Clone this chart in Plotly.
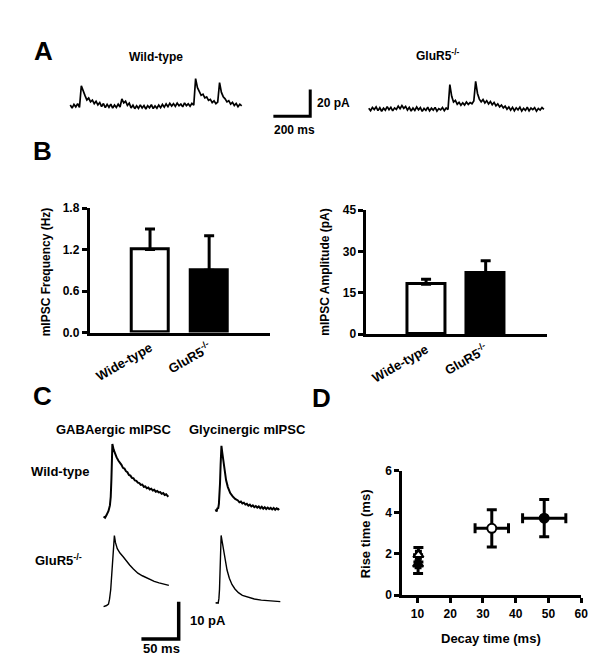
import plotly.graph_objects as go

W, H = 600, 668
FONT = "Arial, Liberation Sans, sans-serif"

# ---- panel A: spontaneous mIPSC traces, pA, sampled every 10 ms
a_dt = 10
a_wt = [0.8, -1.5, 1.2, -0.6, 1.8, -1.0, 15.2, 10.5, 7.8, 4.6,
        6.0, 3.2, 4.4, 1.8, 3.5, 0.9, 2.6, -0.4, 1.9, -1.2,
        1.3, -0.9, 1.5, -1.6, 0.8, -1.1, 1.4, -0.7, 5.3, 2.4,
        3.6, 0.5, 2.1, -1.4, 0.6, -2.0, 0.2, -1.7, 0.9, -1.5,
        0.4, -2.2, 0.3, -1.3, 1.0, -1.9, 0.1, -1.6, 0.7, -1.2,
        1.2, -0.8, 1.6, -0.5, 2.0, 0.0, 1.8, -0.3, 2.2, 0.2,
        1.5, -0.6, 2.4, 0.3, 1.7, -0.2, 2.0, 0.6, 20.5, 13.8,
        11.2, 8.0, 8.9, 6.1, 6.8, 4.2, 5.0, 2.6, 3.9, 1.8,
        3.0, 17.6, 10.2, 7.0, 5.4, 3.1, 4.0, 1.5, 2.8, 0.4,
        1.9, -0.5, 1.4, 0.2]
a_ko = [0.5, -1.3, 1.1, -0.4, 1.6, -1.2, 0.9, -1.7, 0.6, -0.9,
        1.8, -0.6, 1.3, -1.4, 0.8, -0.3, 2.1, 0.2, 2.6, 0.5,
        1.9, -0.8, 1.2, -1.5, 0.7, -1.1, 1.5, -0.6, 1.0, -1.8,
        0.4, -1.0, 1.3, -1.4, 0.6, -0.9, 1.2, -1.6, 0.3, -0.7,
        1.1, -1.2, 0.8, -0.4, 18.3, 9.5, 5.2, 6.4, 3.6, 5.0,
        2.8, 4.6, 3.0, 5.2, 3.4, 4.8, 3.9, 6.0, 20.7, 11.6,
        7.4, 5.3, 7.0, 4.5, 6.2, 3.8, 5.6, 3.2, 4.9, 2.4,
        3.8, 1.6, 2.9, 0.8, 2.2, -0.2, 1.5, -0.9, 1.2, -1.3,
        0.9, -0.6, 1.4, -1.5, 0.5, -1.0, 1.3, -1.4, 0.7, -0.5,
        1.0, -1.6, 0.4, -0.8, 1.1, -0.3]
a_scale = (200, 20)  # ms, pA

# ---- panel B: mean +/- SEM
groups = ["Wide-type", "GluR5<sup>-/-</sup>"]
freq = [1.2, 0.9]
freq_sem = [0.3, 0.5]
amp = [18.1, 22.0]
amp_sem = [1.8, 4.6]

# ---- panel C: averaged mIPSCs (ms, pA)
gaba_wt_t = [0, 2, 4, 6.6, 8.5, 9.6, 10.5, 11.2, 11.8, 13.5, 15.5, 17.5,
             20, 22, 24, 26, 28, 30, 32, 34, 36, 38, 40, 42, 44, 46, 48, 50,
             52, 54, 56, 58, 60, 62, 64, 66, 68, 70, 72, 74, 76, 78, 80, 82,
             84, 86, 87]
gaba_wt = [0, -0.3, 0.4, 1.5, 3.0, 5.3, 10, 15, 19.5, 18.0, 16.8, 15.9,
           15.0, 14.5, 13.9, 13.1, 12.9, 12.2, 11.9, 11.2, 11.0, 10.4, 10.3, 9.7, 9.6, 9.1, 9.0, 8.5,
           8.6, 8.0, 8.1, 7.6, 7.8, 7.3, 7.5, 7.0, 7.2, 6.7, 6.9, 6.5, 6.6, 6.1, 6.3, 5.8,
           6.0, 5.5, 5.7]
gly_wt_t = [0, 1.5, 2.5, 3.5, 4.5, 5.3, 6, 6.8, 7.9, 9, 10.9, 12.5, 14.1,
            16.5, 19.7, 23, 26.3, 30, 32, 34, 36, 38, 40, 42, 44, 46, 48, 50,
            52, 54, 56, 58, 60, 62, 64, 66, 68, 70, 72, 74, 76, 78, 80, 82, 84, 85.5]
gly_wt = [0, -0.6, 0.4, 0.2, 1.5, 3.5, 7, 12, 17.1, 15.3, 12.3, 10.0, 7.9,
          6.0, 4.4, 3.5, 2.8, 2.4, 1.9, 2.1, 1.6, 1.8, 1.3, 1.5, 1.0, 1.3, 0.8, 1.1,
          0.6, 0.9, 0.5, 0.8, 0.3, 0.7, 0.2, 0.6, 0.1, 0.5, 0.1, 0.4, 0.0, 0.4, -0.1, 0.3, 0.0, 0.2]
gaba_ko_t = [0, 2, 4, 6.6, 8, 9.6, 11, 12.5, 13.8, 14.5, 16, 18.4, 22, 26.3,
             30, 35, 40, 46, 52, 61.3, 68, 74.5, 81, 87.6]
gaba_ko = [0, 0.1, 0.3, 0.7, 2.0, 4.6, 8, 12.5, 17, 19.1, 17.2, 15.6, 14.4, 13.4,
           12.4, 11.2, 10.1, 9.0, 8.3, 7.4, 6.8, 6.4, 6.0, 5.7]
gly_ko_t = [0, 1.5, 3.5, 4.5, 5.3, 6.2, 6.9, 7.5, 8.5, 10.9, 13, 15.4, 18.5,
            22, 26, 30.7, 36, 43.9, 52, 61.4, 70, 78, 86.9]
gly_ko = [0, 0.1, 0, 1.2, 3.7, 9, 14.5, 18.2, 17.0, 14.2, 11.3, 8.9, 6.7,
          5.0, 3.8, 2.8, 2.1, 1.5, 1.1, 0.8, 0.6, 0.5, 0.4]
c_scale = (50, 10)  # ms, pA

# ---- panel D: rise vs decay time (mean +/- SEM)
decay = [32.7, 48.7, 10.3, 10.2]
decay_err = [5.1, 6.6, 0.6, 0.6]
rise = [3.23, 3.72, 1.95, 1.5]
rise_err = [0.9, 0.9, 0.35, 0.45]
d_fill = ["white", "black", "white", "black"]
d_symbol = ["circle", "circle", "triangle-up", "triangle-up"]


def fx(p):
    return p / W


def fy(p):
    return 1 - p / H


fig = go.Figure()
black = "black"

# panel A, drawn on a hidden axis in ms / pA
MS_A = a_scale[0] / 37.3
PA_A = a_scale[1] / 27.3
A_TOP, A_BOT = 20, 125


def trace_a(vals, x_px, base_py):
    t = [x_px * MS_A + i * a_dt for i in range(len(vals))]
    y = [(A_BOT - base_py) * PA_A + v for v in vals]
    fig.add_trace(go.Scatter(x=t, y=y, mode="lines", line=dict(color=black, width=1.7),
                             xaxis="x4", yaxis="y4", showlegend=False, hoverinfo="skip"))


trace_a(a_wt, 63, 93)
trace_a(a_ko, 365, 96)
xc, yc = 305.8 * MS_A, (A_BOT - 103.3) * PA_A
fig.add_trace(go.Scatter(x=[xc - a_scale[0], xc, xc], y=[yc, yc, yc + a_scale[1]], mode="lines",
                         line=dict(color=black, width=3), xaxis="x4", yaxis="y4", showlegend=False))

# panel C, hidden axis in ms / pA
MS_C = c_scale[0] / 37.7
PA_C = c_scale[1] / 38.0
C_TOP, C_BOT = 420, 655


def trace_c(t, vals, x_px, base_py, width):
    fig.add_trace(go.Scatter(x=[x_px * MS_C + v for v in t],
                             y=[(C_BOT - base_py) * PA_C + v for v in vals],
                             mode="lines", line=dict(color=black, width=width),
                             xaxis="x5", yaxis="y5", showlegend=False, hoverinfo="skip"))


trace_c(gaba_wt_t, gaba_wt, 96.7, 512.3, 2)
trace_c(gly_wt_t, gly_wt, 210, 505, 2)
trace_c(gaba_ko_t, gaba_ko, 96.7, 604.3, 1.4)
trace_c(gly_ko_t, gly_ko, 210, 600.7, 1.4)
xc, yc = 172.7 * MS_C, (C_BOT - 637.3) * PA_C
fig.add_trace(go.Scatter(x=[xc - c_scale[0], xc, xc], y=[yc, yc, yc + c_scale[1]], mode="lines",
                         line=dict(color=black, width=3.5), xaxis="x5", yaxis="y5", showlegend=False))

# panel B bars
for vals, sem, ax in [(freq, freq_sem, ""), (amp, amp_sem, "2")]:
    fig.add_trace(go.Bar(x=groups, y=vals, width=0.635,
                         marker=dict(color=["white", "black"], line=dict(color=black, width=3)),
                         error_y=dict(type="data", array=sem, arrayminus=[0, 0], symmetric=False,
                                      thickness=3, width=5, color=black),
                         xaxis="x" + ax, yaxis="y" + ax, showlegend=False))

# panel D scatter
fig.add_trace(go.Scatter(x=decay, y=rise, mode="markers",
                         marker=dict(symbol=d_symbol, size=9, color=d_fill, line=dict(color=black, width=2)),
                         error_x=dict(type="data", array=decay_err, thickness=3, width=5, color=black),
                         error_y=dict(type="data", array=rise_err, thickness=3, width=5, color=black),
                         xaxis="x3", yaxis="y3", showlegend=False))

tfont = dict(family=FONT, size=12, color=black, weight="bold")
cfont = dict(family=FONT, size=13, color=black, weight="bold")
axis_common = dict(showline=True, linecolor=black, linewidth=3, showgrid=False, zeroline=False,
                   ticks="outside", tickwidth=3, ticklen=5, tickcolor=black, tickfont=tfont,
                   fixedrange=True)
hidden = dict(visible=False, fixedrange=True)

fig.update_layout(
    width=W, height=H, margin=dict(l=0, r=0, t=0, b=0),
    paper_bgcolor="white", plot_bgcolor="rgba(0,0,0,0)", bargap=0,
    xaxis=dict(axis_common, domain=[fx(82.7), fx(265)], range=[-1.02, 2.028], ticks="",
               tickangle=-30, tickfont=cfont, anchor="y"),
    yaxis=dict(axis_common, domain=[fy(324.3), fy(197.3)], range=[0, 1.8],
               tickvals=[0, 0.6, 1.2, 1.8], ticktext=["0.0", "0.6", "1.2", "1.8"], anchor="x"),
    xaxis2=dict(axis_common, domain=[fx(362.7), fx(545)], range=[-1.0, 2.023], ticks="",
                tickangle=-30, tickfont=cfont, anchor="y2"),
    yaxis2=dict(axis_common, domain=[fy(326), fy(199.3)], range=[0, 45],
                tickvals=[0, 15, 30, 45], anchor="x2"),
    xaxis3=dict(axis_common, domain=[fx(399), fx(580)], range=[5.4, 60],
                tickvals=[10, 20, 30, 40, 50, 60], anchor="y3"),
    yaxis3=dict(axis_common, domain=[fy(592.7), fy(465.7)], range=[0, 6],
                tickvals=[0, 2, 4, 6], anchor="x3"),
    xaxis4=dict(hidden, domain=[0, 1], range=[0, W * MS_A], anchor="y4"),
    yaxis4=dict(hidden, domain=[fy(A_BOT), fy(A_TOP)], range=[0, (A_BOT - A_TOP) * PA_A], anchor="x4"),
    xaxis5=dict(hidden, domain=[0, 0.5], range=[0, 300 * MS_C], anchor="y5"),
    yaxis5=dict(hidden, domain=[fy(C_BOT), fy(C_TOP)], range=[0, (C_BOT - C_TOP) * PA_C], anchor="x5"),
)


def label(text, x, y, size=12, anchor="center", angle=0):
    fig.add_annotation(text=text, x=fx(x), y=fy(y), xref="paper", yref="paper", showarrow=False,
                       xanchor=anchor, yanchor="middle", textangle=angle,
                       font=dict(family=FONT, size=size, color=black, weight="bold"))


for txt, x, y in [("A", 35.5, 37), ("B", 35, 139), ("C", 35, 389), ("D", 316.7, 391)]:
    label(txt, x, y, size=26)

label("Wild-type", 149.5, 43)
label("GluR5<sup>-/-</sup>", 435, 41)
label("20 pA", 311, 90, anchor="left")
label("200 ms", 290, 117)
label("mIPSC Frequency (Hz)", 38.3, 262, angle=-90)
label("mIPSC Amplitude (pA)", 320, 262, angle=-90)
label("GABAergic mIPSC", 106.7, 423, size=13)
label("Glycinergic mIPSC", 242.5, 423, size=13)
label("Wild-type", 53, 466, size=13)
label("GluR5<sup>-/-</sup>", 51, 557, size=13)
label("10 pA", 181.7, 618.3, size=13, anchor="left")
label("50 ms", 155, 647.3, size=13)
label("Rise time (ms)", 361.7, 530, size=13, angle=-90)
label("Decay time (ms)", 488.3, 637.3, size=13)

fig.write_html("out.html")
